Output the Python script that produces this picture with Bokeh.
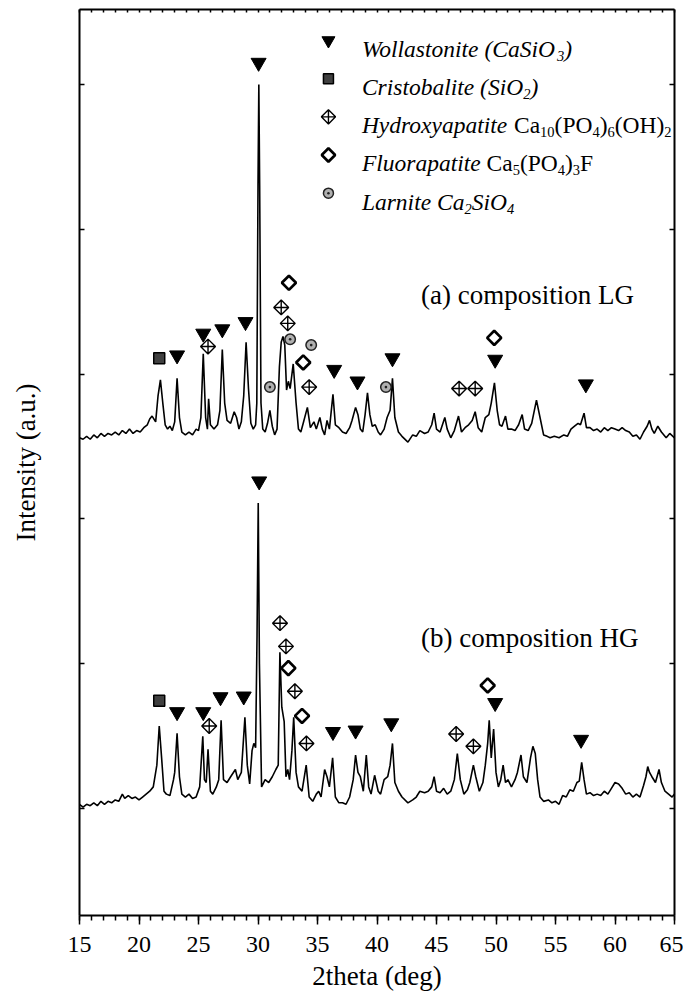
from bokeh.plotting import figure
from bokeh.models import Range1d, LinearAxis, FixedTicker, SingleIntervalTicker
from bokeh.core.properties import value
from bokeh.embed import file_html
from bokeh.resources import INLINE
import math

# ---------------- data ----------------
lg_theta = [15.0, 15.3, 15.6, 15.9, 16.2, 16.5, 16.8, 17.1, 17.4, 17.7, 18.0, 18.3, 18.6, 18.9, 19.2,
            19.5, 19.8, 20.1, 20.4, 20.7, 20.9, 21.1, 21.4, 21.6, 21.8, 22.0, 22.2, 22.4, 22.6, 22.8,
            23.0, 23.2, 23.4, 23.6, 23.9, 24.2, 24.5, 24.8, 25.0, 25.2, 25.4, 25.6, 25.75, 25.85, 26.0,
            26.3, 26.6, 26.8, 27.0, 27.2, 27.4, 27.7, 28.0, 28.2, 28.4, 28.6, 28.8, 29.0, 29.2, 29.4,
            29.6, 29.8, 29.9, 30.0, 30.07, 30.14, 30.25, 30.4, 30.6, 30.8, 31.0, 31.2, 31.4, 31.6, 31.8,
            31.95, 32.1, 32.25, 32.4, 32.55, 32.7, 32.96, 33.2, 33.4, 33.6, 33.8, 34.15, 34.4, 34.7, 34.9,
            35.2, 35.4, 35.6, 35.8, 36.0, 36.3, 36.5, 36.8, 37.1, 37.4, 37.7, 37.9, 38.2, 38.4, 38.6,
            38.8, 39.0, 39.2, 39.4, 39.6, 39.85, 40.1, 40.3, 40.6, 40.85, 41.1, 41.3, 41.5, 41.8, 42.1,
            42.6, 43.0, 43.3, 43.6, 44.0, 44.3, 44.6, 44.8, 45.0, 45.3, 45.7, 45.9, 46.2, 46.5, 46.85,
            47.1, 47.4, 47.7, 48.0, 48.25, 48.5, 48.8, 49.1, 49.4, 49.6, 49.87, 50.1, 50.3, 50.5, 50.8,
            51.0, 51.3, 51.6, 51.9, 52.2, 52.4, 52.7, 53.0, 53.4, 53.7, 54.0, 54.3, 54.55, 54.9, 55.3,
            55.7, 56.0, 56.3, 56.6, 56.9, 57.1, 57.4, 57.6, 57.9, 58.2, 58.5, 58.8, 59.1, 59.4, 59.7,
            60.0, 60.3, 60.6, 60.9, 61.2, 61.5, 61.8, 62.1, 62.4, 62.7, 62.9, 63.1, 63.3, 63.6, 63.9,
            64.3, 64.6, 65.0]
lg_intensity = [0.06, 0.05, 0.07, 0.05, 0.08, 0.06, 0.09, 0.07, 0.09, 0.08, 0.10, 0.08, 0.11, 0.09, 0.12,
                0.09, 0.11, 0.10, 0.13, 0.15, 0.19, 0.21, 0.17, 0.35, 0.46, 0.30, 0.15, 0.12, 0.14, 0.11,
                0.17, 0.47, 0.20, 0.10, 0.08, 0.10, 0.08, 0.12, 0.11, 0.20, 0.64, 0.20, 0.12, 0.33, 0.15,
                0.12, 0.15, 0.25, 0.67, 0.30, 0.18, 0.16, 0.24, 0.20, 0.12, 0.17, 0.35, 0.72, 0.40, 0.16,
                0.12, 0.15, 0.30, 1.80, 2.50, 1.80, 0.30, 0.12, 0.10, 0.16, 0.25, 0.14, 0.08, 0.12, 0.55,
                0.72, 0.76, 0.70, 0.39, 0.45, 0.40, 0.57, 0.30, 0.12, 0.10, 0.16, 0.27, 0.13, 0.17, 0.12,
                0.20, 0.12, 0.08, 0.18, 0.12, 0.36, 0.15, 0.13, 0.10, 0.09, 0.13, 0.18, 0.27, 0.22, 0.12,
                0.10, 0.22, 0.37, 0.22, 0.14, 0.15, 0.10, 0.08, 0.12, 0.20, 0.25, 0.47, 0.20, 0.10, 0.07,
                0.03, 0.08, 0.07, 0.11, 0.09, 0.10, 0.15, 0.23, 0.12, 0.10, 0.20, 0.12, 0.06, 0.11, 0.21,
                0.10, 0.13, 0.15, 0.18, 0.24, 0.13, 0.10, 0.20, 0.22, 0.30, 0.44, 0.25, 0.15, 0.14, 0.21,
                0.12, 0.12, 0.11, 0.15, 0.22, 0.12, 0.11, 0.16, 0.32, 0.20, 0.08, 0.07, 0.06, 0.07, 0.06,
                0.08, 0.07, 0.12, 0.14, 0.16, 0.15, 0.23, 0.13, 0.13, 0.11, 0.12, 0.10, 0.13, 0.11, 0.13,
                0.12, 0.11, 0.13, 0.11, 0.10, 0.07, 0.08, 0.05, 0.10, 0.14, 0.18, 0.12, 0.09, 0.14, 0.10,
                0.06, 0.09, 0.06]

hg_theta = [15.0, 15.3, 15.6, 15.9, 16.2, 16.5, 16.8, 17.1, 17.4, 17.7, 18.0, 18.3, 18.6, 18.8, 19.1,
            19.4, 19.7, 20.0, 20.3, 20.6, 20.9, 21.2, 21.5, 21.7, 21.9, 22.1, 22.3, 22.6, 22.9, 23.0,
            23.2, 23.4, 23.6, 23.9, 24.2, 24.5, 24.8, 25.1, 25.36, 25.5, 25.65, 25.8, 26.0, 26.2, 26.5,
            26.7, 26.9, 27.1, 27.4, 27.7, 28.1, 28.3, 28.6, 28.9, 29.1, 29.3, 29.5, 29.65, 29.8, 29.92,
            30.02, 30.12, 30.3, 30.6, 30.9, 31.2, 31.5, 31.7, 31.84, 32.0, 32.2, 32.35, 32.5, 32.65, 32.85,
            33.0, 33.2, 33.4, 33.7, 34.05, 34.3, 34.6, 34.9, 35.1, 35.3, 35.6, 35.8, 36.0, 36.27, 36.5,
            36.8, 37.1, 37.4, 37.7, 38.0, 38.2, 38.4, 38.6, 38.85, 39.1, 39.3, 39.5, 39.8, 40.1, 40.3,
            40.6, 40.9, 41.1, 41.3, 41.5, 41.8, 42.1, 42.6, 43.0, 43.3, 43.6, 44.0, 44.3, 44.6, 44.8,
            45.0, 45.3, 45.6, 45.9, 46.2, 46.5, 46.75, 47.0, 47.3, 47.6, 47.8, 48.1, 48.3, 48.6, 48.9,
            49.1, 49.3, 49.43, 49.6, 49.8, 50.0, 50.2, 50.4, 50.6, 50.8, 51.0, 51.3, 51.6, 51.8, 52.1,
            52.3, 52.6, 52.9, 53.1, 53.3, 53.5, 53.7, 54.0, 54.4, 54.7, 55.0, 55.3, 55.6, 55.9, 56.2,
            56.5, 56.8, 57.0, 57.2, 57.4, 57.6, 57.9, 58.2, 58.5, 58.8, 59.1, 59.4, 59.7, 60.0, 60.3,
            60.6, 60.9, 61.2, 61.5, 61.8, 62.1, 62.4, 62.6, 62.75, 62.9, 63.1, 63.4, 63.7, 63.9, 64.2,
            64.5, 64.8, 65.0]
hg_intensity = [0.03, 0.01, 0.03, 0.02, 0.04, 0.02, 0.05, 0.03, 0.05, 0.04, 0.06, 0.05, 0.10, 0.07, 0.09,
                0.07, 0.08, 0.06, 0.08, 0.10, 0.12, 0.15, 0.30, 0.57, 0.35, 0.12, 0.10, 0.09, 0.20, 0.25,
                0.52, 0.22, 0.10, 0.08, 0.10, 0.07, 0.08, 0.15, 0.50, 0.20, 0.18, 0.41, 0.12, 0.10, 0.15,
                0.20, 0.61, 0.20, 0.18, 0.22, 0.27, 0.20, 0.25, 0.63, 0.30, 0.17, 0.40, 0.45, 0.42, 1.20,
                2.11, 1.00, 0.15, 0.20, 0.18, 0.22, 0.27, 0.30, 1.08, 0.70, 0.60, 0.22, 0.27, 0.20, 0.40,
                0.63, 0.25, 0.15, 0.12, 0.30, 0.08, 0.05, 0.10, 0.12, 0.08, 0.27, 0.22, 0.15, 0.35, 0.08,
                0.04, 0.04, 0.03, 0.08, 0.20, 0.37, 0.25, 0.22, 0.12, 0.37, 0.15, 0.10, 0.23, 0.12, 0.10,
                0.20, 0.22, 0.30, 0.45, 0.18, 0.12, 0.08, 0.04, 0.06, 0.08, 0.12, 0.11, 0.12, 0.15, 0.22,
                0.12, 0.11, 0.14, 0.10, 0.12, 0.20, 0.38, 0.20, 0.10, 0.13, 0.18, 0.30, 0.22, 0.12, 0.18,
                0.30, 0.45, 0.61, 0.35, 0.55, 0.25, 0.15, 0.20, 0.30, 0.18, 0.20, 0.15, 0.20, 0.25, 0.37,
                0.22, 0.18, 0.35, 0.43, 0.38, 0.20, 0.08, 0.05, 0.06, 0.04, 0.05, 0.03, 0.09, 0.08, 0.13,
                0.12, 0.18, 0.19, 0.32, 0.20, 0.10, 0.11, 0.09, 0.10, 0.09, 0.12, 0.10, 0.14, 0.18, 0.17,
                0.14, 0.10, 0.11, 0.08, 0.10, 0.08, 0.16, 0.22, 0.29, 0.25, 0.22, 0.18, 0.27, 0.18, 0.12,
                0.10, 0.08, 0.10]

LG_OFFSET = 2.5   # vertical shift of pattern (a)

# phase markers, pattern (a) LG (heights relative to the pattern's own zero)
lg_woll_x = [23.2, 25.4, 27.0, 28.95, 30.05, 36.4, 38.36, 41.3, 49.93, 57.55]
lg_woll_y = [0.63, 0.78, 0.81, 0.86, 2.65, 0.53, 0.45, 0.61, 0.60, 0.43]
lg_cris_x = [21.7]
lg_cris_y = [0.61]
lg_hap_x = [25.8, 31.95, 32.5, 34.3, 46.9, 48.25]
lg_hap_y = [0.69, 0.96, 0.85, 0.41, 0.40, 0.40]
lg_fap_x = [32.6, 33.8, 49.85]
lg_fap_y = [1.13, 0.58, 0.75]
lg_lar_x = [31.0, 32.7, 34.47, 40.75]
lg_lar_y = [0.41, 0.74, 0.70, 0.41]

# phase markers, pattern (b) HG
hg_woll_x = [23.2, 25.4, 26.85, 28.8, 30.1, 36.3, 38.2, 41.2, 49.93, 57.15]
hg_woll_y = [0.667, 0.667, 0.77, 0.775, 2.26, 0.53, 0.54, 0.59, 0.73, 0.476]
hg_cris_x = [21.7]
hg_cris_y = [0.745]
hg_hap_x = [25.9, 31.85, 32.35, 33.1, 34.07, 46.65, 48.1]
hg_hap_y = [0.57, 1.28, 1.12, 0.81, 0.45, 0.515, 0.43]
hg_fap_x = [32.55, 33.7, 49.3]
hg_fap_y = [0.97, 0.64, 0.85]

y_ticks = [0, 1, 2, 3, 4, 5]          # unlabelled intensity ticks
sample_labels = ["(a) composition LG", "(b) composition HG"]

# legend rows: list of (text, italic, subscript)
legend_rows = [
    [("Wollastonite (CaSiO", True, False), ("3", True, True), (")", True, False)],
    [("Cristobalite (SiO", True, False), ("2", True, True), (")", True, False)],
    [("Hydroxyapatite ", True, False), ("Ca", False, False), ("10", False, True), ("(PO", False, False),
     ("4", False, True), (")", False, False), ("6", False, True), ("(OH)", False, False), ("2", False, True)],
    [("Fluorapatite ", True, False), ("Ca", False, False), ("5", False, True), ("(PO", False, False),
     ("4", False, True), (")", False, False), ("3", False, True), ("F", False, False)],
    [("Larnite Ca", True, False), ("2", True, True), ("SiO", True, False), ("4", True, True)],
]

# ---------------- styles ----------------
FONT = "Liberation Serif"
X0, X1 = 15, 65
Y0, Y1 = -0.738, 5.517
FW, FH = 595, 907
PXX = FW / (X1 - X0)   # px per degree
PXY = FH / (Y1 - Y0)   # px per intensity unit

STY = {
    "woll": dict(marker="inverted_triangle", size=15, fill_color="black", line_color="black", line_width=1),
    "cris": dict(marker="square", size=11, fill_color="#404040", line_color="black", line_width=1.5),
    "hap": dict(marker="square_x", size=10.5, angle=math.pi / 4, fill_color="white", line_color="black", line_width=1.4),
    "fap": dict(marker="square", size=10, angle=math.pi / 4, fill_color="white", line_color="black", line_width=2.7),
    "lar": dict(marker="circle_dot", size=10.5, fill_color="#b0b0b0", line_color="#222222", line_width=1.5),
}

p = figure(width=683, height=993, x_range=Range1d(X0, X1), y_range=Range1d(Y0, Y1),
           output_backend="svg", toolbar_location=None,
           min_border_left=79, min_border_right=9, min_border_top=9, min_border_bottom=77)
p.grid.visible = False
p.outline_line_color = None
p.background_fill_color = "white"
p.border_fill_color = "white"

# bottom axis
xa = p.xaxis[0]
xa.ticker = SingleIntervalTicker(interval=5, num_minor_ticks=5)
xa.major_tick_in = 0
xa.major_tick_out = 9
xa.minor_tick_in = 0
xa.minor_tick_out = 5
xa.axis_line_width = 2
xa.major_tick_line_width = 1.5
xa.minor_tick_line_width = 1.5
xa.major_label_text_font = FONT
xa.major_label_text_font_size = "24px"
xa.major_label_text_color = "black"
xa.major_label_standoff = 12
xa.axis_label = "2theta (deg)"
xa.axis_label_text_font = FONT
xa.axis_label_text_font_size = "27px"
xa.axis_label_text_font_style = "normal"
xa.axis_label_text_color = "black"
xa.axis_label_standoff = 6

# left axis: unlabelled inward ticks (drawn as minor ticks so no tick text is produced)
ya = p.yaxis[0]
ya.ticker = FixedTicker(ticks=[], minor_ticks=y_ticks)
ya.major_tick_in = 0
ya.major_tick_out = 0
ya.minor_tick_in = 5
ya.minor_tick_out = 0
ya.axis_line_width = 2
ya.minor_tick_line_width = 1.5
ya.major_label_standoff = 0
ya.axis_label = "Intensity (a.u.)"
ya.axis_label_text_font = FONT
ya.axis_label_text_font_size = "27px"
ya.axis_label_text_font_style = "normal"
ya.axis_label_text_color = "black"
ya.axis_label_standoff = 39

top = LinearAxis(ticker=FixedTicker(ticks=[], minor_ticks=list(range(X0, X1 + 1))),
                 major_tick_in=0, major_tick_out=0, minor_tick_in=3, minor_tick_out=0,
                 axis_line_width=2, minor_tick_line_width=1.5, major_label_standoff=0)
p.add_layout(top, "above")
right = LinearAxis(ticker=FixedTicker(ticks=[], minor_ticks=y_ticks),
                   major_tick_in=0, major_tick_out=0, minor_tick_in=5, minor_tick_out=0,
                   axis_line_width=2, minor_tick_line_width=1.5, major_label_standoff=0)
p.add_layout(right, "right")

# patterns
p.line(lg_theta, [v + LG_OFFSET for v in lg_intensity], line_color="black", line_width=1.6)
p.line(hg_theta, hg_intensity, line_color="black", line_width=1.6)

# markers
def marks(xs, ys, key, off=0.0):
    p.scatter(xs, [v + off for v in ys], **STY[key])

marks(lg_woll_x, lg_woll_y, "woll", LG_OFFSET)
marks(lg_cris_x, lg_cris_y, "cris", LG_OFFSET)
marks(lg_hap_x, lg_hap_y, "hap", LG_OFFSET)
marks(lg_fap_x, lg_fap_y, "fap", LG_OFFSET)
marks(lg_lar_x, lg_lar_y, "lar", LG_OFFSET)
marks(hg_woll_x, hg_woll_y, "woll")
marks(hg_cris_x, hg_cris_y, "cris")
marks(hg_hap_x, hg_hap_y, "hap")
marks(hg_fap_x, hg_fap_y, "fap")

# sample labels
p.text(x=[43.7, 43.7], y=[3.545, 1.179], text=sample_labels,
       text_font=value(FONT), text_font_size="27px", text_color="black",
       text_align="left", text_baseline="alphabetic")

# legend (manual, to allow italics and subscripts)
ROMAN = {' ': 250, '(': 333, ')': 333, 'C': 667, 'a': 444, 'P': 556, 'O': 722, 'H': 722, 'F': 556,
         'S': 556, 'i': 278}
ITALIC = {' ': 250, '(': 333, ')': 333, 'W': 833, 'o': 500, 'l': 278, 'a': 500, 's': 389, 't': 278,
          'n': 500, 'i': 278, 'e': 444, 'C': 667, 'S': 500, 'O': 722, 'r': 389, 'b': 500, 'H': 722,
          'y': 444, 'd': 500, 'x': 444, 'p': 500, 'F': 611, 'u': 500, 'L': 556}
LEG_SIZE, SUB_SIZE, SUB_DROP = 23.5, 14.5, 7
LEG_MX, LEG_TX = 35.92, 38.73
LEG_Y_TOP, LEG_DY = 5.303, 0.2635
legend_keys = ["woll", "cris", "hap", "fap", "lar"]
legend_marker_size = {"woll": 13, "cris": 10, "hap": 10, "fap": 9.5, "lar": 10}

for i, (key, segs) in enumerate(zip(legend_keys, legend_rows)):
    yc = LEG_Y_TOP - i * LEG_DY
    st = dict(STY[key])
    st["size"] = legend_marker_size[key]
    p.scatter([LEG_MX], [yc], **st)
    base = yc - 8.5 / PXY
    cur = 0.0
    for txt, ital, sub in segs:
        size = SUB_SIZE if sub else LEG_SIZE
        y = base - (SUB_DROP / PXY if sub else 0)
        p.text(x=[LEG_TX + cur / PXX], y=[y], text=[txt], text_font=value(FONT),
               text_font_size=f"{size}px", text_font_style="italic" if ital else "normal",
               text_color="black", text_align="left", text_baseline="alphabetic")
        table = ITALIC if ital else ROMAN
        cur += sum(table.get(c, 500) for c in txt) / 1000.0 * size

open("out.html", "w").write(file_html(p, INLINE))
